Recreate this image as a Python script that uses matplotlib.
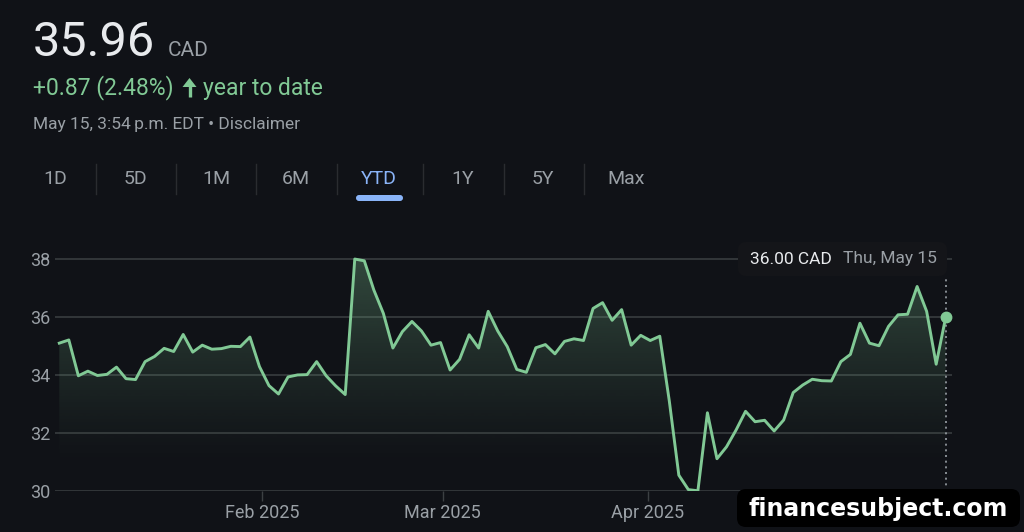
import numpy as np
import matplotlib
matplotlib.use("Agg")
from matplotlib import pyplot as plt
from matplotlib.patches import FancyBboxPatch

# closing prices, one per trading day, Jan 2 - May 15 2025
prices = [35.10, 35.21, 33.97, 34.13, 33.98, 34.02, 34.27, 33.87, 33.84, 34.46,
          34.64, 34.92, 34.81, 35.40, 34.79, 35.03, 34.89, 34.91, 34.99, 34.98,
          35.31, 34.29, 33.63, 33.34, 33.93, 34.00, 34.01, 34.46, 33.97, 33.62,
          33.32, 38.01, 37.95, 36.94, 36.13, 34.93, 35.50, 35.85, 35.52, 35.03,
          35.12, 34.17, 34.54, 35.39, 34.93, 36.20, 35.52, 34.98, 34.19, 34.09,
          34.94, 35.05, 34.73, 35.16, 35.25, 35.19, 36.30, 36.50, 35.89, 36.26,
          35.03, 35.37, 35.19, 35.34, 33.10, 30.53, 30.03, 29.99, 32.69, 31.10,
          31.51, 32.09, 32.74, 32.38, 32.43, 32.06, 32.44, 33.39, 33.65, 33.85,
          33.80, 33.79, 34.46, 34.71, 35.79, 35.10, 35.01, 35.68, 36.08, 36.10,
          37.06, 36.20, 34.37, 36.00]
month_ticks = [21.27, 40.24, 61.77, 82.76]
month_labels = ["Feb 2025", "Mar 2025", "Apr 2025", "May 2025"]
y_ticks = [30, 32, 34, 36, 38]
tabs = ["1D", "5D", "1M", "6M", "YTD", "1Y", "5Y", "Max"]
tab_x = [55, 135, 216, 296, 379, 463, 543, 626]
sep_x = [96, 176, 256, 337, 423, 504, 584]

BG = "#101217"
GREEN = "#81c995"
GREY = "#9aa0a6"
GRID = "#3c4043"
BLUE = "#8ab4f8"
FONT = ["Roboto", "DejaVu Sans"]

plt.rcParams["font.family"] = FONT

fig = plt.figure(figsize=(10.24, 5.32), dpi=100, facecolor=BG)
W, H = 1024, 532

# main chart axes, placed in pixels
ax = fig.add_axes([55 / W, 1 - 490.5 / H, 897 / W, 248.5 / H])
ax.set_facecolor(BG)
x = np.arange(len(prices))
y = np.array(prices)

# gradient fill under the line
poly = ax.fill_between(x, y, 29.9, facecolor="none", edgecolor="none")
clip = poly.get_paths()[0]
levels = np.linspace(29.9, 38.2, 256)
alpha = 0.30 * np.clip((levels - 30.8) / 7.2, 0, 1) ** 1.2
rgba = np.zeros((256, 1, 4))
rgba[:, 0, 0] = 129 / 255
rgba[:, 0, 1] = 201 / 255
rgba[:, 0, 2] = 149 / 255
rgba[:, 0, 3] = alpha
im = ax.imshow(rgba, extent=[x[0], x[-1], 29.9, 38.2], origin="lower",
               aspect="auto", zorder=1, interpolation="bilinear")
im.set_clip_path(clip, transform=ax.transData)

ax.plot(x, y, color=GREEN, lw=2.1, zorder=3, solid_joinstyle="round")
ax.plot([x[-1], x[-1]], [30, 37.36], color=GREY, lw=1.2, ls=(0, (1.2, 2.2)), zorder=2)
ax.plot(x[-1], y[-1], "o", color=GREEN, ms=7.5, zorder=4)

ax.set_xlim(-0.45, 93.66)
ax.set_ylim(30, 38.6)
for s in ax.spines.values():
    s.set_visible(False)
ax.set_yticks(y_ticks)
ax.set_yticklabels([str(v) for v in y_ticks])
ax.grid(axis="y", color=GRID, lw=1.1, zorder=0)
ax.set_axisbelow(True)
ax.set_xticks(month_ticks)
ax.set_xticklabels(month_labels)
ax.tick_params(axis="y", length=0, pad=3, labelsize=13, labelcolor=GREY)
ax.tick_params(axis="x", length=7, width=1, color=GRID, pad=3,
               labelsize=13, labelcolor=GREY)

# overlay in pixel coordinates for the page elements
ov = fig.add_axes([0, 0, 1, 1], zorder=5)
ov.set_xlim(0, W)
ov.set_ylim(H, 0)
ov.axis("off")
ov.patch.set_visible(False)

ov.text(33, 56, "35.96", color="#e8eaed", fontsize=35, va="baseline", ha="left")
ov.text(168, 56, "CAD", color=GREY, fontsize=15, va="baseline", ha="left")
ov.text(33, 88, "+0.87 (2.48%)", color=GREEN, fontsize=16.5, va="center", ha="left")
# up arrow icon
ov.plot([189.5, 189.5], [84, 97], color=GREEN, lw=2.4, solid_capstyle="butt")
ov.fill([182.5, 196.5, 189.5], [87, 87, 78], color=GREEN, lw=0)
ov.text(203, 88, "year to date", color=GREEN, fontsize=16.5, va="center", ha="left")
ov.text(33, 125, "May 15, 3:54\u2009p.m. EDT \u2022 Disclaimer", color=GREY,
        fontsize=12.5, va="center", ha="left")

# range tabs
for t, tx in zip(tabs, tab_x):
    ov.text(tx, 179, t, color=BLUE if t == "YTD" else GREY, fontsize=14,
            ha="center", va="center")
for sx in sep_x:
    ov.plot([sx, sx], [164, 194], color="#2a2c30", lw=1)
ov.add_patch(FancyBboxPatch((356, 195), 47, 6, boxstyle="round,pad=0,rounding_size=3",
                            fc=BLUE, ec="none"))

# tooltip
ov.add_patch(FancyBboxPatch((738, 242), 209, 34, boxstyle="round,pad=0,rounding_size=8",
                            fc="#141519", ec="none"))
ov.text(750, 259, "36.00 CAD", color="#e8eaed", fontsize=12.5, ha="left", va="center")
ov.text(843, 259, "Thu, May 15", color=GREY, fontsize=12.5, ha="left", va="center")

# watermark
ov.add_patch(FancyBboxPatch((737, 489), 283, 38, boxstyle="round,pad=0,rounding_size=9",
                            fc="#000000", ec="none"))
ov.text(878, 509, "financesubject.com", color="white", fontsize=17, fontweight="bold",
        family="DejaVu Sans", ha="center", va="center")

fig.savefig("out.png", dpi=100, facecolor=BG)
